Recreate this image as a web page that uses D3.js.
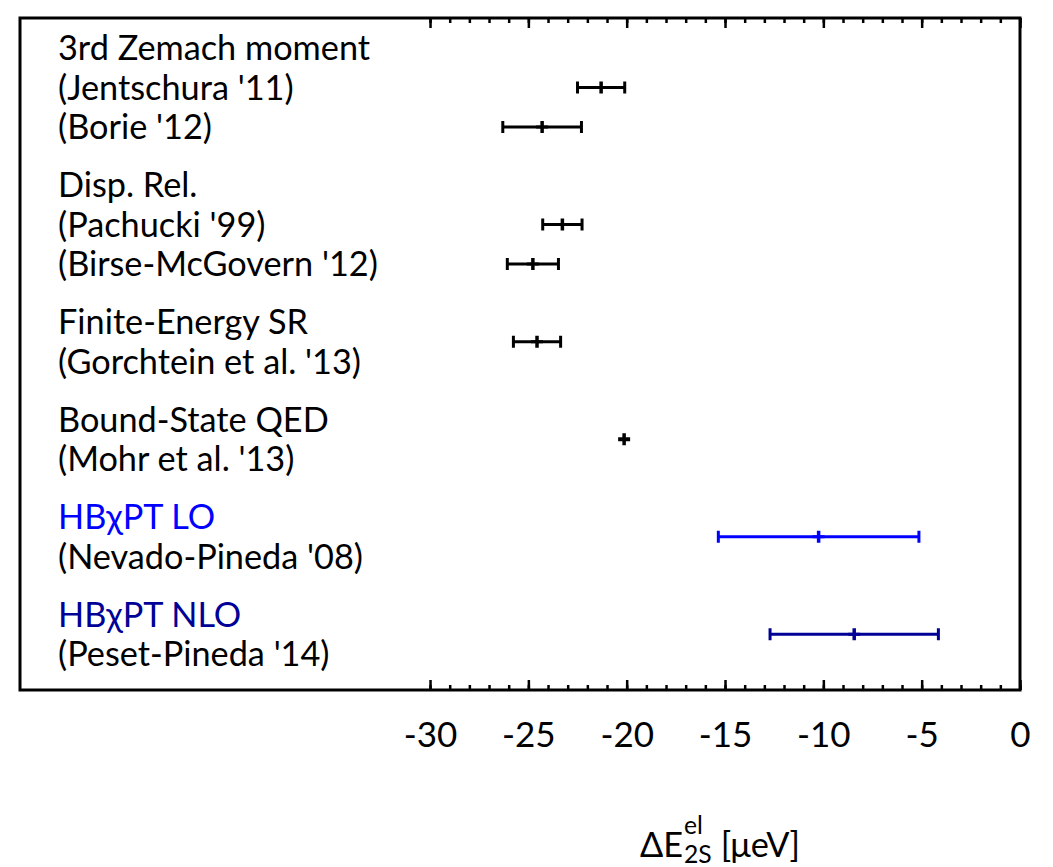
<!DOCTYPE html>
<html><head><meta charset="utf-8">
<script src="https://cdn.jsdelivr.net/npm/d3@7"></script>
<style>body{margin:0;background:#fff}svg{display:block}</style>
</head><body>
<script>
// ---- data ----
const headings = ["3rd Zemach moment", "Disp. Rel.", "Finite-Energy SR", "Bound-State QED", "HB\u03C7PT LO", "HB\u03C7PT NLO"];
const studies = ["(Jentschura '11)", "(Borie '12)", "(Pachucki '99)", "(Birse-McGovern '12)", "(Gorchtein et al. '13)", "(Mohr et al. '13)", "(Nevado-Pineda '08)", "(Peset-Pineda '14)"];
const studyGroup = [0, 0, 1, 1, 2, 3, 4, 5];
const centers = [-21.3, -24.3, -23.27, -24.77, -24.56, -20.13, -10.24, -8.43];
const errors  = [1.2, 2.0, 1.0, 1.3, 1.2, 0, 5.1, 4.28];
const majorTicks = [-30, -25, -20, -15, -10, -5, 0];
const minorTicks = d3.range(-30, 1, 1);
const xDomain = [-50.85, 0];

// ---- layout ----
const W = 1053, H = 867;
const frame = {left: 20, right: 1020, top: 18, bottom: 690};
const groupColors = ["#000", "#000", "#000", "#000", "#0000ff", "#000096"];
const font = "Lato, 'Open Sans', sans-serif";

const svg = d3.select("body").append("svg").attr("width", W).attr("height", H);
const x = d3.scaleLinear().domain(xDomain).range([frame.left, frame.right]);
const yLine = d3.scaleLinear().domain([0, 13]).range([48, 48 + 13 * 39.5]);
const groupGap = 18.5;

// font size calibrated so the longest label has the reference width
const probe = svg.append("text").attr("font-family", font).attr("font-size", 30).text("(Birse-McGovern '12)");
const fs = 30 * 320 / probe.node().getComputedTextLength();
probe.remove();

// build line list
const lines = [];
const rows = [];
let li = 0;
headings.forEach((h, g) => {
  lines.push({text: h, line: li, group: g, heading: true});
  li++;
  const idx = studies.map((s, i) => i).filter(i => studyGroup[i] === g);
  idx.forEach(i => { lines.push({text: studies[i], line: li, group: g, heading: false}); rows.push({i, line: idx.length === 1 ? li - 0.5 : li, group: g}); li++; });
});
const yPos = (line, g) => yLine(line) + g * groupGap;

// frame
svg.append("rect").attr("x", frame.left).attr("y", frame.top)
  .attr("width", frame.right - frame.left).attr("height", frame.bottom - frame.top)
  .attr("fill", "none").attr("stroke", "#000").attr("stroke-width", 3);

// axes (inward ticks)
const fmt = d => String(d);
const topMinor = svg.append("g").attr("transform", `translate(0,${frame.top})`)
  .call(d3.axisTop(x).tickValues(minorTicks).tickSize(-5).tickFormat(""));
const topMajor = svg.append("g").attr("transform", `translate(0,${frame.top})`)
  .call(d3.axisTop(x).tickValues(majorTicks).tickSize(-10).tickFormat(""));
const botMinor = svg.append("g").attr("transform", `translate(0,${frame.bottom})`)
  .call(d3.axisBottom(x).tickValues(minorTicks).tickSize(-5).tickFormat(""));
const botMajor = svg.append("g").attr("transform", `translate(0,${frame.bottom})`)
  .call(d3.axisBottom(x).tickValues(majorTicks).tickSize(-10).tickPadding(32).tickFormat(fmt));
[topMinor, topMajor, botMinor, botMajor].forEach(g => {
  g.select(".domain").remove();
  g.selectAll(".tick line").attr("stroke", "#000").attr("stroke-width", 2.5);
});
botMajor.selectAll(".tick text").attr("font-family", font).attr("font-size", fs * 1.02).attr("fill", "#000")
  .attr("dy", "0.71em").attr("y", 32);

// labels
svg.append("g").selectAll("text").data(lines).join("text")
  .attr("x", 58).attr("y", d => yPos(d.line, d.group) + fs * 0.36)
  .attr("font-family", font).attr("font-size", fs)
  .attr("fill", d => d.heading ? groupColors[d.group] : "#000")
  .text(d => d.text);

// error bars
const capH = 6, tickH = 6;
const bars = svg.append("g").selectAll("g").data(rows).join("g")
  .attr("stroke", d => groupColors[d.group]).attr("stroke-width", 3).attr("fill", "none");
bars.each(function(d) {
  const g = d3.select(this);
  const y = yPos(d.line, d.group);
  const c = centers[d.i], e = errors[d.i];
  if (e > 0) {
    g.append("line").attr("x1", x(c - e)).attr("x2", x(c + e)).attr("y1", y).attr("y2", y);
    [c - e, c + e].forEach(v => g.append("line").attr("x1", x(v)).attr("x2", x(v)).attr("y1", y - capH).attr("y2", y + capH));
  }
  g.append("line").attr("x1", x(c)).attr("x2", x(c)).attr("y1", y - tickH).attr("y2", y + tickH).attr("stroke-width", 3.5);
  g.append("line").attr("x1", x(c) - 6).attr("x2", x(c) + 6).attr("y1", y).attr("y2", y).attr("stroke-width", e > 0 ? 3 : 4);
});

// x-axis title: ΔE with stacked superscript "el" and subscript "2S"
const tx = 640, tb = 857;
const meas = svg.append("text").attr("font-family", font).attr("font-size", fs).text("\u0394E");
const wDE = meas.node().getComputedTextLength(); meas.remove();
const small = fs * 0.72;
svg.append("text").attr("x", tx).attr("y", tb).attr("font-family", font).attr("font-size", fs).attr("fill", "#000").text("\u0394E");
const subT = svg.append("text").attr("x", tx + wDE + 1).attr("y", tb + 6).attr("font-family", font).attr("font-size", small).attr("fill", "#000").text("2S");
svg.append("text").attr("x", tx + wDE + 1).attr("y", tb - 23).attr("font-family", font).attr("font-size", small).attr("fill", "#000").text("el");
const wSub = subT.node().getComputedTextLength();
svg.append("text").attr("x", tx + wDE + wSub + 10).attr("y", tb).attr("font-family", font).attr("font-size", fs).attr("fill", "#000").text("[\u03BCeV]");
</script>
</body></html>
